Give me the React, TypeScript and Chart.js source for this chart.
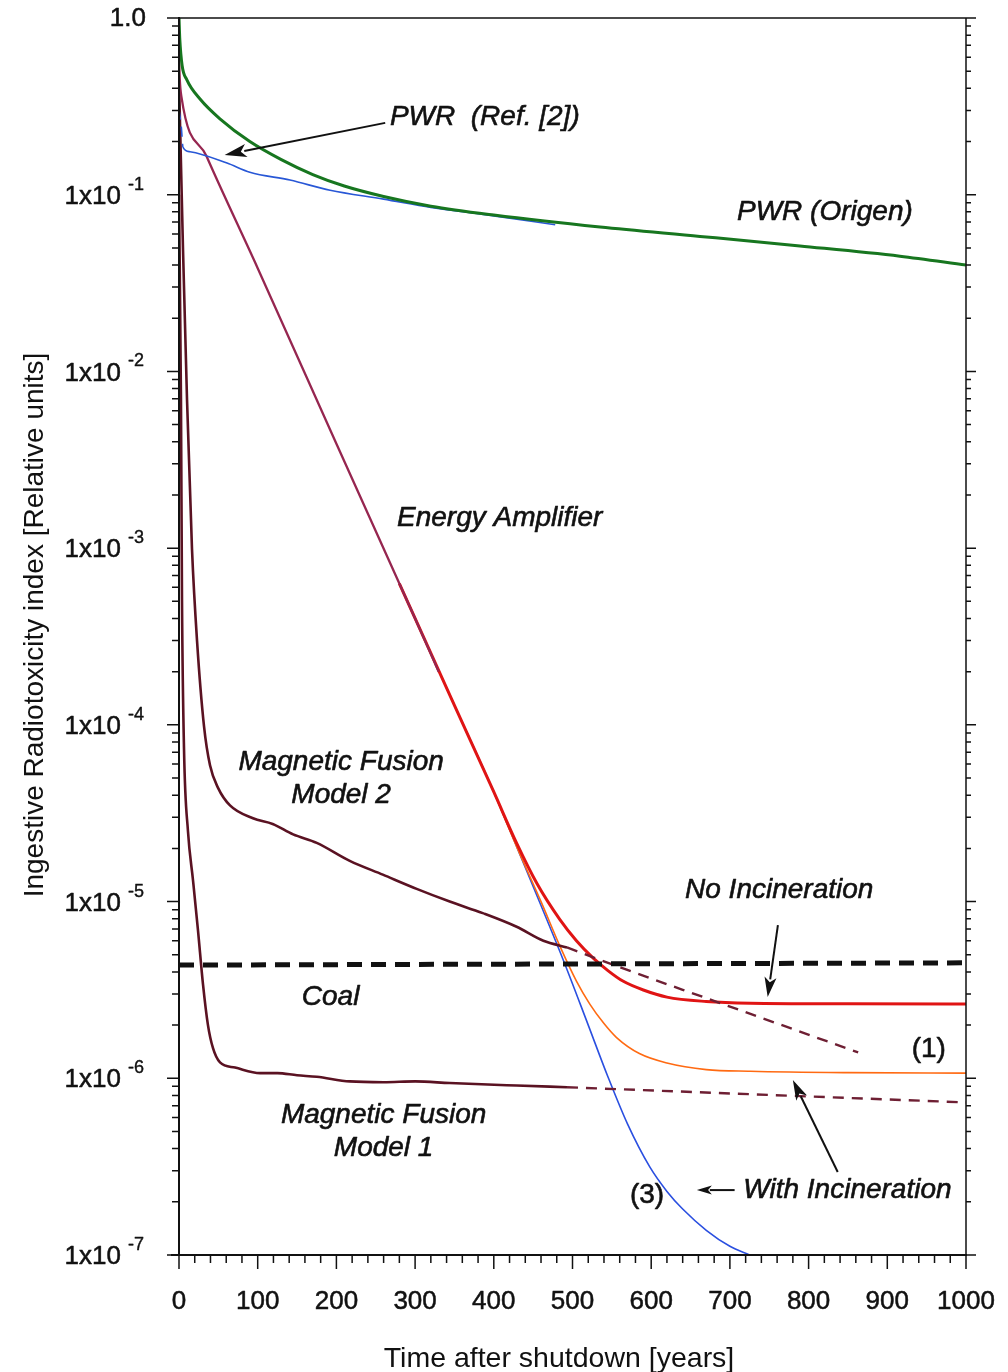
import React, { useEffect, useRef } from 'react';
import { Chart, registerables } from 'chart.js';

Chart.register(...registerables);

const FONT = '"Liberation Sans", Arial, Helvetica, sans-serif';

// ---------------- DATA ----------------
const pwrOrigenYears = [0, 1, 4, 10, 27, 52, 90, 130, 170, 210, 260, 320, 400, 535, 662, 789, 916, 1000];
const pwrOrigenValues = [1.0, 0.759, 0.537, 0.447, 0.347, 0.269, 0.2, 0.158, 0.13, 0.112, 0.0977, 0.0861, 0.0767, 0.0656, 0.0581, 0.0513, 0.0449, 0.04];

const pwrRefYears = [0, 3, 5, 14, 61, 90, 141, 192, 260, 320, 400, 478];
const pwrRefValues = [0.302, 0.24, 0.186, 0.175, 0.151, 0.134, 0.121, 0.106, 0.0944, 0.0847, 0.0759, 0.0676];

const eaYears = [0, 1, 3, 35, 100, 200, 300, 330];
const eaValues = [0.62, 0.45, 0.36, 0.165, 0.0384, 0.0039, 4.0e-4, 2.0e-4];

const noIncYears = [280, 350, 400, 429, 455, 484, 505, 526, 545, 564, 590, 620, 670, 726, 850, 1000];
const noIncValues = [6.3e-4, 1.29e-4, 4.17e-5, 2.14e-5, 1.26e-5, 7.9e-6, 6.0e-6, 4.8e-6, 4.07e-6, 3.55e-6, 3.16e-6, 2.88e-6, 2.72e-6, 2.66e-6, 2.64e-6, 2.63e-6];

const withInc1Years = [400, 430, 460, 484, 505, 522, 540, 556, 585, 620, 670, 726, 850, 1000];
const withInc1Values = [4.17e-5, 2.0e-5, 1.0e-5, 5.6e-6, 3.55e-6, 2.63e-6, 2.04e-6, 1.7e-6, 1.38e-6, 1.22e-6, 1.12e-6, 1.096e-6, 1.076e-6, 1.07e-6];

const withInc3Years = [280, 350, 400, 430, 460, 488, 520, 545, 570, 598, 620, 640, 670, 700, 725];
const withInc3Values = [6.3e-4, 1.29e-4, 4.17e-5, 2.0e-5, 9.5e-6, 4.7e-6, 2.0e-6, 1.02e-6, 5.5e-7, 3.16e-7, 2.29e-7, 1.82e-7, 1.38e-7, 1.12e-7, 1.0e-7];

const mf2Years = [0, 5.1, 10.2, 16.5, 22.9, 31.8, 39.4, 49.6, 64.8, 94, 119, 145, 175, 217, 259, 302, 344, 386, 429, 463, 493];
const mf2Values = [0.45, 0.0486, 6.9e-3, 9.9e-4, 3.0e-4, 9.8e-5, 5.9e-5, 4.4e-5, 3.5e-5, 2.96e-5, 2.75e-5, 2.4e-5, 2.15e-5, 1.7e-5, 1.42e-5, 1.18e-5, 1.0e-5, 8.6e-6, 7.2e-6, 6.0e-6, 5.5e-6];
const mf2ExtYears = [493, 557, 684, 863];
const mf2ExtValues = [5.5e-6, 4.3e-6, 2.7e-6, 1.4e-6];

const mf1Years = [0, 2.5, 3.8, 6.4, 11.4, 17.8, 24.1, 30.5, 36.8, 43.2, 52.1, 71.2, 103, 125, 150, 175, 217, 260, 300, 344, 429, 493];
const mf1Values = [0.1, 6.9e-3, 5.1e-4, 7.2e-5, 2.5e-5, 1.32e-5, 6.9e-6, 3.4e-6, 2.0e-6, 1.48e-6, 1.23e-6, 1.15e-6, 1.07e-6, 1.07e-6, 1.04e-6, 1.02e-6, 9.6e-7, 9.5e-7, 9.6e-7, 9.4e-7, 9.1e-7, 8.9e-7];
const mf1ExtYears = [493, 1000];
const mf1ExtValues = [8.9e-7, 7.3e-7];

const coalYears = [0, 1000];
const coalValues = [4.37e-6, 4.5e-6];

const xTickValues = [0, 100, 200, 300, 400, 500, 600, 700, 800, 900, 1000];
const xTickLabels = ['0', '100', '200', '300', '400', '500', '600', '700', '800', '900', '1000'];
const yTickExponents = [0, -1, -2, -3, -4, -5, -6, -7];

const xTitle = 'Time after shutdown [years]';
const yTitle = 'Ingestive Radiotoxicity index [Relative units]';

type Note = { text: string; x: number; y: number; align: CanvasTextAlign; italic: boolean };
const notes: Note[] = [
  { text: 'PWR  (Ref. [2])', x: 268, y: 0.275, align: 'left', italic: true },
  { text: 'PWR (Origen)', x: 709, y: 0.0798, align: 'left', italic: true },
  { text: 'Energy Amplifier', x: 277, y: 1.48e-3, align: 'left', italic: true },
  { text: 'Magnetic Fusion', x: 206, y: 6.17e-5, align: 'center', italic: true },
  { text: 'Model 2', x: 206, y: 4.0e-5, align: 'center', italic: true },
  { text: 'Coal', x: 156, y: 2.88e-6, align: 'left', italic: true },
  { text: 'No Incineration', x: 643, y: 1.16e-5, align: 'left', italic: true },
  { text: '(1)', x: 931, y: 1.45e-6, align: 'left', italic: false },
  { text: 'Magnetic Fusion', x: 260, y: 6.19e-7, align: 'center', italic: true },
  { text: 'Model 1', x: 260, y: 4.03e-7, align: 'center', italic: true },
  { text: 'With Incineration', x: 717, y: 2.33e-7, align: 'left', italic: true },
  { text: '(3)', x: 573, y: 2.19e-7, align: 'left', italic: false },
];

const arrows = [
  { x0: 262, y0: 0.255, x1: 58, y1: 0.168, head: 22 },
  { x0: 761, y0: 7.36e-6, x1: 748, y1: 2.88e-6, head: 20 },
  { x0: 837, y0: 2.95e-7, x1: 780, y1: 9.77e-7, head: 20 },
  { x0: 706, y0: 2.33e-7, x1: 658, y1: 2.33e-7, head: 15 },
];

function pts(xs: number[], ys: number[]) {
  return xs.map((x, i) => ({ x, y: ys[i] }));
}

function heavyText(ctx: CanvasRenderingContext2D, text: string, x: number, y: number, w = 0.6) {
  ctx.lineWidth = w;
  ctx.strokeText(text, x, y);
  ctx.fillText(text, x, y);
}

const decorPlugin = {
  id: 'decor',
  afterDatasetsDraw(chart: any) {
    const { ctx, chartArea: a, scales } = chart;
    const xs = scales.x;
    const ys = scales.y;
    ctx.save();
    ctx.strokeStyle = '#111';
    ctx.fillStyle = '#111';
    ctx.lineCap = 'butt';
    ctx.lineJoin = 'round';

    // frame
    ctx.lineWidth = 1.5;
    ctx.beginPath();
    ctx.moveTo(a.left, a.top);
    ctx.lineTo(a.right, a.top);
    ctx.moveTo(a.right, a.top);
    ctx.lineTo(a.right, a.bottom);
    ctx.stroke();
    ctx.lineWidth = 2;
    ctx.beginPath();
    ctx.moveTo(a.left, a.top - 1);
    ctx.lineTo(a.left, a.bottom);
    ctx.moveTo(a.left - 8, a.bottom);
    ctx.lineTo(a.right + 1, a.bottom);
    ctx.stroke();

    // x ticks
    ctx.lineWidth = 1.5;
    ctx.beginPath();
    for (let v = 0; v <= 1000; v += 20) {
      const px = xs.getPixelForValue(v);
      const len = v % 100 === 0 ? 14 : 8;
      ctx.moveTo(px, a.bottom);
      ctx.lineTo(px, a.bottom + len);
    }
    // y ticks
    for (let e = 0; e >= -7; e--) {
      const py = ys.getPixelForValue(Math.pow(10, e));
      ctx.moveTo(a.left, py);
      ctx.lineTo(a.left - 12, py);
      ctx.moveTo(a.right, py);
      ctx.lineTo(a.right + 10, py);
      if (e > -7) {
        for (let k = 2; k <= 9; k++) {
          const pm = ys.getPixelForValue(k * Math.pow(10, e - 1));
          ctx.moveTo(a.left, pm);
          ctx.lineTo(a.left - 7, pm);
          ctx.moveTo(a.right, pm);
          ctx.lineTo(a.right + 5, pm);
        }
      }
    }
    ctx.stroke();

    // x labels
    ctx.font = `26px ${FONT}`;
    ctx.textAlign = 'center';
    ctx.textBaseline = 'middle';
    xTickValues.forEach((v, i) => {
      heavyText(ctx, xTickLabels[i], xs.getPixelForValue(v), a.bottom + 47, 0.5);
    });

    // y labels
    yTickExponents.forEach((e) => {
      const py = ys.getPixelForValue(Math.pow(10, e));
      if (e === 0) {
        ctx.font = `26px ${FONT}`;
        ctx.textAlign = 'right';
        heavyText(ctx, '1.0', a.left - 33, py + 1, 0.5);
      } else {
        ctx.font = `26px ${FONT}`;
        ctx.textAlign = 'right';
        heavyText(ctx, '1x10', a.left - 58, py + 2, 0.5);
        ctx.font = `18px ${FONT}`;
        ctx.textAlign = 'left';
        heavyText(ctx, '-' + Math.abs(e), a.left - 51, py - 10, 0.4);
      }
    });

    // titles
    ctx.font = `28.5px ${FONT}`;
    ctx.textAlign = 'center';
    ctx.fillText(xTitle, 559, a.bottom + 104);
    ctx.save();
    ctx.translate(35, 625);
    ctx.rotate(-Math.PI / 2);
    ctx.font = `28px ${FONT}`;
    ctx.fillText(yTitle, 0, 0);
    ctx.restore();

    // notes
    notes.forEach((n) => {
      ctx.font = `${n.italic ? 'italic ' : ''}28px ${FONT}`;
      ctx.textAlign = n.align;
      ctx.textBaseline = 'middle';
      heavyText(ctx, n.text, xs.getPixelForValue(n.x), ys.getPixelForValue(n.y), 0.6);
    });

    // arrows
    arrows.forEach((ar) => {
      const x0 = xs.getPixelForValue(ar.x0);
      const y0 = ys.getPixelForValue(ar.y0);
      const x1 = xs.getPixelForValue(ar.x1);
      const y1 = ys.getPixelForValue(ar.y1);
      const ang = Math.atan2(y1 - y0, x1 - x0);
      const h = ar.head;
      const w = h * 0.3;
      const bx = x1 - Math.cos(ang) * h;
      const by = y1 - Math.sin(ang) * h;
      ctx.lineWidth = 2;
      ctx.beginPath();
      ctx.moveTo(x0, y0);
      ctx.lineTo(bx + Math.cos(ang) * 2, by + Math.sin(ang) * 2);
      ctx.stroke();
      ctx.beginPath();
      ctx.moveTo(x1, y1);
      ctx.lineTo(bx + Math.cos(ang + Math.PI / 2) * w, by + Math.sin(ang + Math.PI / 2) * w);
      ctx.lineTo(bx + Math.cos(ang) * h * 0.25, by + Math.sin(ang) * h * 0.25);
      ctx.lineTo(bx + Math.cos(ang - Math.PI / 2) * w, by + Math.sin(ang - Math.PI / 2) * w);
      ctx.closePath();
      ctx.fill();
    });

    ctx.restore();
  },
};

export default function App() {
  const ref = useRef<HTMLCanvasElement | null>(null);

  useEffect(() => {
    document.body.style.margin = '0';
    const canvas = ref.current;
    if (!canvas) return;
    const line = (data: any, color: string, width: number, extra: any = {}) => ({
      data,
      borderColor: color,
      backgroundColor: color,
      borderWidth: width,
      pointRadius: 0,
      fill: false,
      cubicInterpolationMode: 'monotone',
      ...extra,
    });
    const chart = new Chart(canvas, {
      type: 'line',
      data: {
        datasets: [
          line(pts(coalYears, coalValues), '#111111', 5, { borderDash: [15, 9], cubicInterpolationMode: 'default', tension: 0 }),
          line(pts(pwrOrigenYears, pwrOrigenValues), '#17761f', 3),
          line(pts(pwrRefYears, pwrRefValues), '#2857d6', 1.6, {
            segment: {
              borderDash: (c: any) => (c.p0.parsed.x < 4 || c.p0.parsed.x > 420 ? [10, 7] : undefined),
            },
          }),
          line(pts(eaYears, eaValues), '#962650', 2.3),
          line(pts(mf2Years, mf2Values), '#5a1222', 2.6),
          line(pts(mf1Years, mf1Values), '#5a1222', 2.6),
          line(pts(mf2ExtYears, mf2ExtValues), '#6e1f33', 2.4, { borderDash: [11, 8] }),
          line(pts(mf1ExtYears, mf1ExtValues), '#6e1f33', 2.4, { borderDash: [11, 8], cubicInterpolationMode: 'default', tension: 0 }),
          line(pts(noIncYears, noIncValues), '#e01414', 3),
          line(pts(withInc1Years, withInc1Values), '#ff6a12', 1.6),
          line(pts(withInc3Years, withInc3Values), '#2a4fe0', 1.6),
        ],
      },
      options: {
        animation: false,
        responsive: false,
        maintainAspectRatio: false,
        layout: { padding: { top: 18, right: 42, left: 0, bottom: 0 } },
        plugins: { legend: { display: false }, tooltip: { enabled: false }, title: { display: false } },
        scales: {
          x: {
            type: 'linear',
            min: 0,
            max: 1000,
            grid: { display: false },
            border: { display: false },
            ticks: { display: false },
            afterFit: (s: any) => {
              s.height = 117;
            },
          },
          y: {
            type: 'logarithmic',
            min: 1e-7,
            max: 1,
            grid: { display: false },
            border: { display: false },
            ticks: { display: false },
            afterFit: (s: any) => {
              s.width = 179;
            },
          },
        },
      } as any,
      plugins: [decorPlugin],
    });
    return () => chart.destroy();
  }, []);

  return (
    <div style={{ position: 'absolute', left: 0, top: 0, width: 1008, height: 1372, background: '#fff' }}>
      <canvas ref={ref} width={1008} height={1372} style={{ width: 1008, height: 1372, display: 'block' }} />
    </div>
  );
}
